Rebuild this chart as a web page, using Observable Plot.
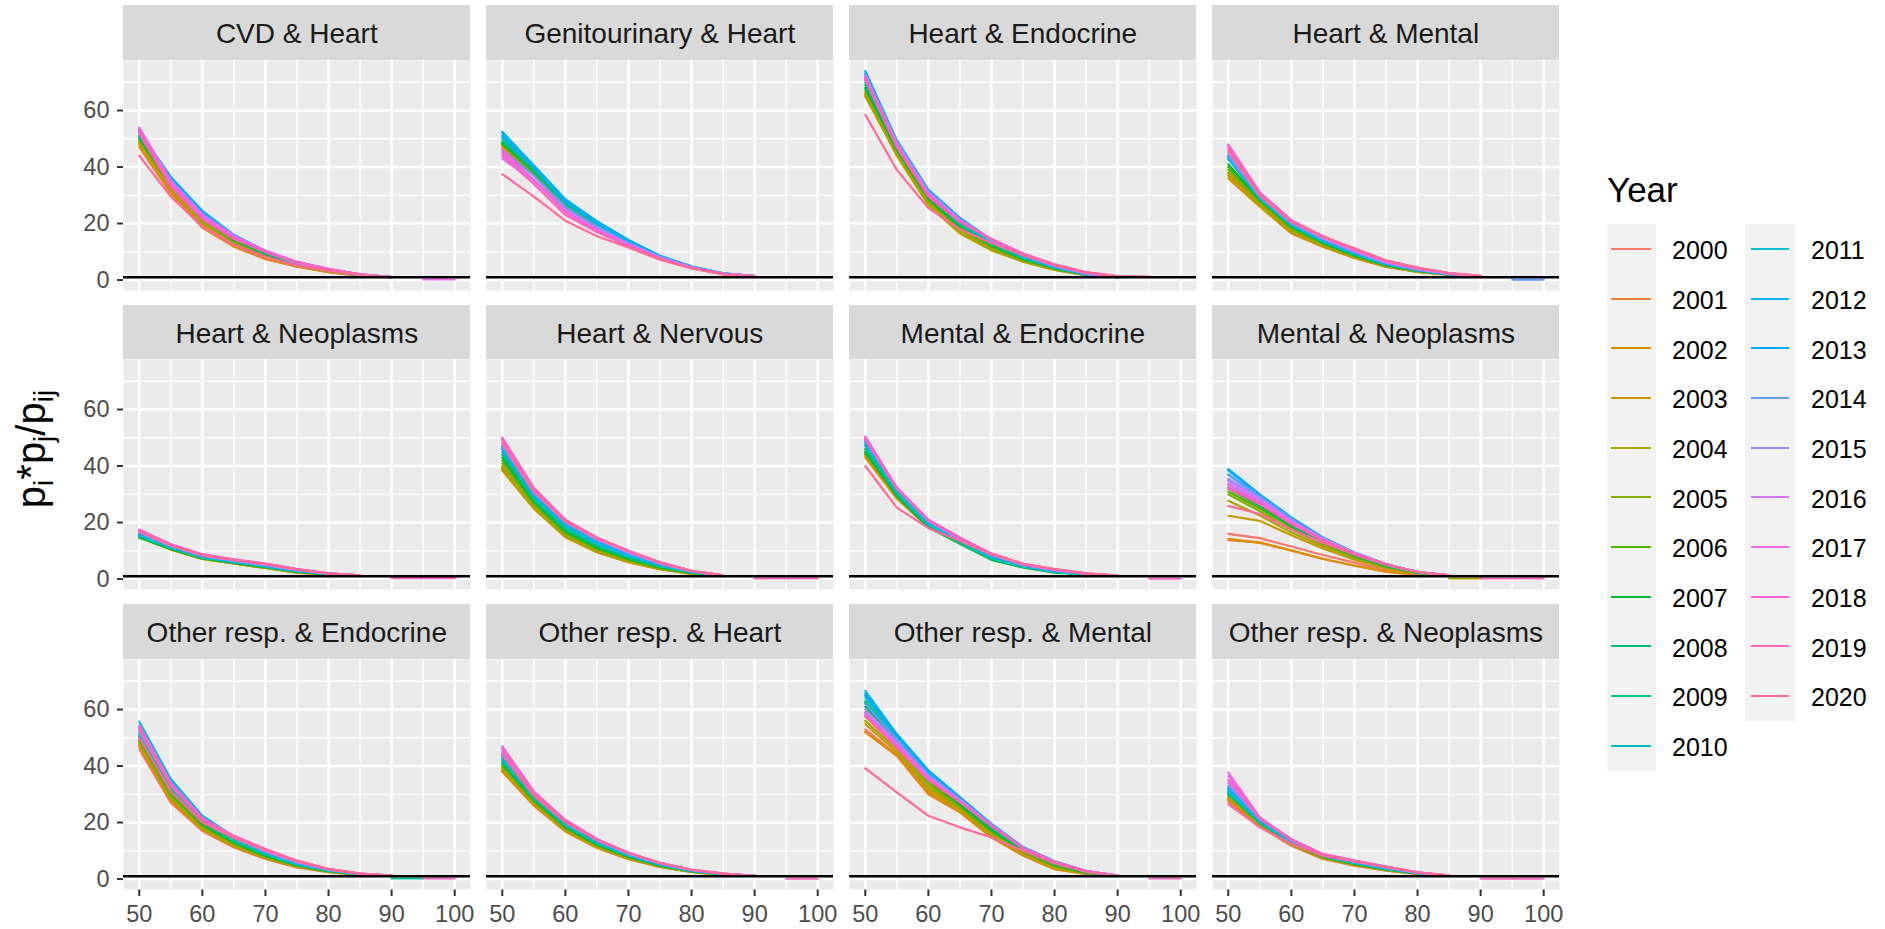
<!DOCTYPE html>
<html>
<head>
<meta charset="utf-8">
<script src="https://cdn.jsdelivr.net/npm/d3@7"></script>
<script src="https://cdn.jsdelivr.net/npm/@observablehq/plot@0.6"></script>
<style>
  html, body { margin: 0; padding: 0; background: #ffffff; }
  #root { position: relative; width: 1885px; height: 929px; overflow: hidden; font-family: "Liberation Sans", Arial, sans-serif; }
  .strip { position: absolute; background: #D9D9D9; display: flex; align-items: center; justify-content: center;
           font-size: 28px; color: #1A1A1A; box-sizing: border-box; padding-top: 4px; white-space: nowrap; }
  .panel { position: absolute; }
  .panel [aria-label="y-axis tick"], .panel [aria-label="x-axis tick"] { stroke-width: 2px; stroke: #333333; }
  #ytitle { position: absolute; font-size: 40px; line-height: 1; color: #000; white-space: nowrap;
            transform: translate(-50%, -50%) rotate(-90deg); }
  #ytitle sub { font-size: 70%; line-height: 0; vertical-align: -0.28em; }
  .lgtitle { position: absolute; font-size: 35px; line-height: 1; color: #000; }
  .lgbg { position: absolute; background: #F2F2F2; }
  .lgkey { position: absolute; height: 2px; }
  .lglab { position: absolute; font-size: 25px; line-height: 1; color: #000; }
</style>
</head>
<body>
<div id="root"></div>
<script>
// ---------------- data ----------------
const years = [2000, 2001, 2002, 2003, 2004, 2005, 2006, 2007, 2008, 2009, 2010,
               2011, 2012, 2013, 2014, 2015, 2016, 2017, 2018, 2019, 2020];
const ages = [50, 55, 60, 65, 70, 75, 80, 85, 90, 95, 100];
const xTicks = [50, 60, 70, 80, 90, 100];
const yTicks = [0, 20, 40, 60];
const panelNames = ["CVD & Heart", "Genitourinary & Heart", "Heart & Endocrine", "Heart & Mental",
  "Heart & Neoplasms", "Heart & Nervous", "Mental & Endocrine", "Mental & Neoplasms",
  "Other resp. & Endocrine", "Other resp. & Heart", "Other resp. & Mental", "Other resp. & Neoplasms"];

// one row per year (2000..2020), one value per age (50..100); null / missing = no data
const cvdHeart = [
  [48, 31, 19, 12, 7.5, 4.8, 2.8, 1.5, 1.0],
  [47, 30.5, 18.5, 11.8, 7.4, 4.7, 2.8, 1.5, 1.0],
  [48, 31.5, 19.5, 12.2, 7.8, 4.9, 2.9, 1.5, 1.0],
  [48.5, 32, 20, 12.5, 8, 5, 3, 1.6, 1.0],
  [49, 32.5, 20.5, 13, 8.3, 5.1, 3.1, 1.6, 1.0],
  [49.5, 33, 21, 13.5, 8.6, 5.3, 3.2, 1.6, 1.0],
  [50, 33.5, 21.5, 14, 9, 5.5, 3.3, 1.7, 1.0],
  [50.5, 34, 22, 14.3, 9.2, 5.6, 3.4, 1.7, 1.0],
  [51, 34.5, 22.5, 14.6, 9.4, 5.7, 3.5, 1.8, 1.0],
  [51, 35, 23, 15, 9.6, 5.8, 3.5, 1.8, 1.0],
  [52, 35.5, 23.5, 15.3, 9.8, 5.9, 3.6, 1.8, 1.0],
  [52, 36, 24, 15.6, 10, 6, 3.6, 1.8, 1.0],
  [52.5, 36.5, 24.5, 16, 10.3, 6.1, 3.7, 1.9, 1.0],
  [53, 36, 24, 15.8, 10.2, 6.1, 3.7, 1.9, 1.0],
  [53, 35.5, 23.5, 15.5, 10, 6, 3.6, 1.9, 1.0],
  [53.5, 35, 23, 15.5, 10, 6.2, 3.8, 2, 1.0],
  [53.5, 35, 23, 15.5, 10.2, 6.3, 3.9, 2, 1.0],
  [54, 35, 23, 15.7, 10.4, 6.5, 4, 2, null, 0.2, 0.2],
  [53, 34, 22, 15, 10, 6.3, 3.9, 2, 1.0],
  [52, 33, 21.5, 14.5, 9.8, 6.2, 3.8, 2, 1.0],
  [44, 29.5, 19, 12.5, 8.2, 5.2, 3.2, 1.7, 1.0]
];
const genitourinaryHeart = [
  [46, 37, 25, 17.5, 12, 7.5, 4.2, 2.1, 1.3],
  [47, 37.5, 25.5, 18, 12.3, 7.6, 4.3, 2.1, 1.3],
  [47.5, 37.5, 25.5, 18, 12.3, 7.6, 4.3, 2.1, 1.3],
  [48, 38, 26, 18.3, 12.5, 7.7, 4.4, 2.2, 1.3],
  [48, 38, 26, 18.5, 12.6, 7.8, 4.4, 2.2, 1.3],
  [48.5, 38.5, 26.5, 18.8, 12.8, 7.9, 4.5, 2.2, 1.3],
  [48, 38, 26.5, 19, 13, 8, 4.5, 2.2, 1.4],
  [48.5, 38.5, 27, 19.3, 13.2, 8.1, 4.6, 2.3, 1.4],
  [49, 39, 27, 19.5, 13.4, 8.2, 4.6, 2.3, 1.4],
  [50, 39.5, 27.5, 20, 13.6, 8.3, 4.7, 2.3, 1.4],
  [51, 40, 28, 20.3, 13.8, 8.4, 4.7, 2.3, 1.4],
  [52, 40.5, 28.5, 20.6, 14, 8.5, 4.8, 2.4, 1.4],
  [52.5, 40.5, 28.5, 20.8, 14.2, 8.6, 4.8, 2.4, 1.4],
  [51, 40, 28, 20.3, 14, 8.5, 4.8, 2.4, 1.4],
  [46, 37, 26, 19, 13.2, 8.2, 4.6, 2.3, 1.4],
  [44, 35.5, 25, 18.3, 12.8, 8, 4.5, 2.3, 1.4],
  [43, 35, 24.5, 18, 12.6, 7.9, 4.5, 2.3, 1.4],
  [45, 35.5, 24.5, 17.8, 12.4, 7.8, 4.4, 2.2, 1.3],
  [46, 35.5, 24, 17.5, 12.2, 7.7, 4.3, 2.2, 1.3],
  [44, 34, 23, 17, 12, 7.6, 4.3, 2.2, 1.3],
  [37.5, 29.5, 21, 15.5, 11.5, 7.2, 4.1, 2, 1.2]
];
const heartEndocrine = [
  [66, 46, 28, 18, 11.5, 7, 4, 1.8, 1],
  [65.5, 45, 27.5, 17.5, 11, 6.8, 3.8, 1.8, 1],
  [65, 44.5, 27, 17, 10.8, 6.6, 3.7, 1.7, 1],
  [65.5, 44, 26.5, 16.5, 10.5, 6.5, 3.6, 1.7, 1],
  [66, 44.5, 27, 17, 10.8, 6.6, 3.7, 1.7, 1],
  [67, 45.5, 28, 18, 11.5, 7, 4, 1.8, 1],
  [68, 46, 28.5, 18.5, 12, 7.3, 4.1, 1.9, 1],
  [68, 46.5, 29, 19, 12.3, 7.5, 4.2, 1.9, 1],
  [69, 47, 29.5, 19.5, 12.6, 7.7, 4.3, 2, 1],
  [70, 47.5, 30, 20, 13, 7.9, 4.4, 2, 1],
  [71, 48, 30.5, 20.5, 13.3, 8.1, 4.5, 2, 1],
  [72, 48.5, 31, 21, 13.6, 8.3, 4.6, 2.1, 1],
  [73, 49, 31.5, 21.5, 14, 8.5, 4.7, 2.1, 1],
  [74, 49.5, 32, 22, 14.3, 8.7, 4.8, 2.1, 1],
  [73, 49, 31.5, 21.5, 14.2, 8.8, 4.9, 2.2, 1],
  [72, 48.5, 31, 21.3, 14.2, 8.9, 5, 2.3, 1.1],
  [71.5, 48, 30.5, 21, 14.2, 9, 5.1, 2.4, 1.1],
  [72, 48, 30.5, 21, 14.4, 9.2, 5.3, 2.5, 1.2],
  [71.5, 47.5, 30, 20.8, 14.5, 9.3, 5.5, 2.7, 1.3, 1.1],
  [71, 47, 29.5, 20.5, 14.5, 9.4, 5.6, 2.8, 1.4, 1.1],
  [58.5, 39, 25.5, 18, 13, 8.8, 5.3, 2.6, 1.3]
];
const heartMental = [
  [38, 27, 17, 12, 8, 4.8, 3, 1.9, 1.2],
  [37, 26.5, 16.8, 11.8, 7.8, 4.7, 2.9, 1.9, 1.2],
  [36, 26, 16.5, 11.8, 7.8, 4.7, 2.9, 1.9, 1.2],
  [37, 26.5, 17, 12, 8, 4.8, 3, 1.9, 1.2],
  [38, 27, 17.5, 12.3, 8.2, 4.9, 3, 1.9, 1.2],
  [39, 27.5, 18, 12.6, 8.4, 5, 3.1, 2, 1.2],
  [40, 28, 18.5, 13, 8.6, 5.2, 3.2, 2, 1.3],
  [41, 28.5, 19, 13.3, 8.8, 5.3, 3.3, 2, 1.3],
  [43, 29, 19.3, 13.5, 9, 5.4, 3.3, 2, 1.3],
  [44, 29.5, 19.5, 13.8, 9.2, 5.5, 3.4, 2.1, 1.3],
  [43, 29, 19.5, 13.8, 9.3, 5.6, 3.4, 2.1, 1.3],
  [43, 29, 19.5, 14, 9.4, 5.7, 3.5, 2.1, 1.3],
  [43.5, 29.5, 20, 14.2, 9.6, 5.8, 3.6, 2.1, 1.3],
  [44, 29.5, 20, 14.3, 9.7, 5.9, 3.6, 2.2, 1.3],
  [44, 29.5, 20, 14.5, 9.9, 6, 3.7, 2.2, null, 0.1, 0.1],
  [45, 30, 20.5, 14.8, 10.1, 6.2, 3.8, 2.2, 1.3],
  [46, 30.5, 21, 15, 10.3, 6.3, 3.9, 2.3, 1.4],
  [47, 31, 21, 15.3, 10.6, 6.5, 4, 2.3, 1.4],
  [48, 31, 21.2, 15.5, 10.9, 6.8, 4.2, 2.4, 1.4],
  [47.5, 30.5, 21, 15.5, 11.2, 7, 4.4, 2.5, 1.5],
  [46, 30, 20.5, 15.3, 11, 6.9, 4.3, 2.5, 1.5]
];
const heartNeoplasms = [
  [15.5, 10.8, 7.3, 5.6, 4.0, 2.4, 1.6, 1.2],
  [15.2, 10.6, 7.2, 5.5, 3.9, 2.3, 1.5, 1.2],
  [15.0, 10.5, 7.1, 5.5, 3.9, 2.3, 1.5, 1.2],
  [15.0, 10.5, 7.1, 5.5, 3.9, 2.4, 1.5, 1.2],
  [15.1, 10.6, 7.2, 5.6, 4.0, 2.4, 1.6, 1.2],
  [14.8, 10.6, 7.2, 5.6, 4.0, 2.5, 1.6, 1.2],
  [14.6, 10.6, 7.3, 5.7, 4.1, 2.5, 1.6, 1.2],
  [14.7, 10.7, 7.4, 5.8, 4.2, 2.6, 1.6, 1.2],
  [15.0, 10.9, 7.5, 5.9, 4.3, 2.7, 1.7, 1.2],
  [15.3, 11.0, 7.6, 6.0, 4.4, 2.8, 1.7, 1.2],
  [15.6, 11.2, 7.7, 6.1, 4.5, 2.8, 1.7, 1.2],
  [15.8, 11.3, 7.8, 6.2, 4.6, 2.9, 1.8, 1.2],
  [16.0, 11.5, 7.9, 6.3, 4.7, 3.0, 1.8, 1.3],
  [16.2, 11.6, 8.0, 6.4, 4.8, 3.0, 1.8, 1.3],
  [16.4, 11.7, 8.1, 6.5, 4.9, 3.1, 1.9, 1.3],
  [16.6, 11.8, 8.3, 6.6, 5.0, 3.2, 1.9, 1.3],
  [16.9, 12.0, 8.4, 6.7, 5.1, 3.3, 1.9, 1.3],
  [17.2, 12.1, 8.6, 6.8, 5.3, 3.4, 2.0, 1.3],
  [17.5, 12.3, 8.8, 7.0, 5.5, 3.5, 2.0, 1.3],
  [17.4, 12.2, 8.7, 6.9, 5.4, 3.5, 2.0, null, 0.3, 0.3, 0.3],
  [16.8, 11.8, 8.4, 6.8, 5.3, 3.4, 2.0, 1.3]
];
const heartNervous = [
  [40, 26, 15.5, 10, 6.2, 3.6, 1.9, 1.2],
  [39, 25.5, 15, 9.8, 6.1, 3.6, 1.9, 1.2],
  [38.5, 25, 14.8, 9.5, 6.0, 3.5, 1.8, 1.2],
  [38.5, 25, 15, 9.6, 6.0, 3.5, 1.8, 1.2],
  [39.5, 25.5, 15.3, 9.9, 6.2, 3.6, 1.9, 1.2],
  [41, 26.5, 16, 10.4, 6.6, 3.8, 2.0, 1.2],
  [42, 27, 16.5, 10.8, 6.9, 4.0, 2.1, 1.2],
  [43, 27.5, 17, 11.2, 7.2, 4.2, 2.2, 1.2],
  [44, 28, 17.5, 11.6, 7.5, 4.4, 2.3, 1.3],
  [45, 28.5, 18, 12, 7.8, 4.6, 2.4, 1.3],
  [46.5, 29.5, 18.5, 12.4, 8.1, 4.8, 2.5, 1.3],
  [47, 30, 19, 12.8, 8.4, 5.0, 2.5, 1.3],
  [46.5, 30, 19.5, 13.2, 8.7, 5.1, 2.6, 1.3],
  [46, 30, 19.8, 13.5, 8.9, 5.2, 2.6, 1.3],
  [47, 30.5, 20, 13.8, 9.2, 5.4, 2.7, 1.3],
  [48, 31, 20.3, 14, 9.4, 5.5, 2.7, 1.3],
  [49, 31.5, 20.5, 14.2, 9.6, 5.6, 2.8, 1.3],
  [50, 32, 20.8, 14.5, 9.8, 5.8, 2.9, 1.3],
  [50, 32.3, 21, 14.7, 10, 5.9, 2.9, 1.3],
  [49.5, 32, 20.8, 14.6, 10, 5.9, 2.9, null, 0.2, 0.2, 0.2],
  [48, 31, 20.3, 14.4, 9.9, 5.8, 2.9, 1.3]
];
const mentalEndocrine = [
  [44, 29, 19, 13, 7.5, 4.5, 2.6, 1.7, 1.1],
  [43.5, 28.5, 18.5, 12.8, 7.3, 4.4, 2.5, 1.7, 1.1],
  [43, 28.5, 18.3, 12.7, 7.2, 4.3, 2.5, 1.7, 1.1],
  [44, 29, 18.5, 12.8, 7.3, 4.4, 2.5, 1.7, 1.1],
  [45, 29.5, 18.8, 12.9, 7.4, 4.5, 2.6, 1.7, 1.1],
  [46, 30, 19, 12.9, 7.3, 4.4, 2.5, 1.7, 1.1],
  [44.5, 29.5, 18.5, 12.6, 7.0, 4.2, 2.4, 1.7, 1.1],
  [45, 29.5, 18.3, 12.5, 6.8, 4.1, 2.3, 1.6, 1.1],
  [46, 30, 18.8, 12.7, 7.0, 4.2, 2.4, 1.7, 1.1],
  [47, 30.5, 19.2, 13, 7.3, 4.4, 2.5, 1.7, 1.1],
  [47.5, 31, 19.5, 13.3, 7.6, 4.6, 2.6, 1.7, 1.1],
  [48, 31.5, 19.8, 13.5, 7.9, 4.7, 2.7, 1.8, 1.1],
  [48.5, 31.8, 20, 13.7, 8.1, 4.8, 2.8, 1.8, 1.1],
  [49, 32, 20.3, 13.9, 8.3, 4.9, 2.9, 1.8, 1.1],
  [49, 32, 20.5, 14, 8.4, 5.0, 3.0, 1.8, 1.1],
  [49.5, 32.2, 20.6, 14.2, 8.6, 5.1, 3.1, 1.9, 1.2],
  [50, 32.4, 20.8, 14.3, 8.7, 5.2, 3.2, 1.9, 1.2],
  [50.5, 32.4, 21, 14.5, 8.9, 5.3, 3.3, 1.9, 1.2],
  [50, 32.2, 21, 14.6, 9.0, 5.4, 3.4, 2.0, 1.2],
  [49.5, 32, 20.8, 14.7, 9.0, 5.4, 3.5, 2.0, null, 0.1, 0.1],
  [40, 25.3, 18, 13.5, 8.7, 5.3, 3.5, 2.0, 1.2]
];
const mentalNeoplasms = [
  [16, 14.5, 11.5, 8.5, 5.8, 3.2, 1.6, 1.1],
  [13.8, 13, 10, 7.1, 4.7, 2.6, 1.5, 1.0],
  [14.2, 12.8, 10.2, 7.2, 4.8, 2.6, 1.5, 1.0],
  [22.4, 20.6, 15.5, 10.8, 6.8, 3.8, 2.0, 1.1],
  [27.7, 22.5, 16.5, 11.5, 7.3, 4.0, null, 0.2, 0.2],
  [30, 24, 17.5, 12.2, 7.8, 4.3, 2.1, 1.1],
  [31, 25, 18.3, 12.6, 8.1, 4.5, 2.2, 1.2],
  [32, 25.8, 18.8, 13, 8.3, 4.6, 2.3, 1.2],
  [32.5, 26.3, 19.2, 13.3, 8.5, 4.7, 2.3, 1.2],
  [33.5, 27, 19.7, 13.6, 8.7, 4.8, 2.4, 1.2],
  [35, 28, 20.3, 14, 9, 5.0, 2.4, 1.2],
  [37, 29, 21, 14.4, 9.2, 5.1, 2.5, 1.3],
  [38.5, 29.7, 21.5, 14.6, 9.4, 5.2, 2.5, 1.3],
  [38.9, 30, 21.8, 14.7, 9.4, 5.3, 2.5, 1.3],
  [37, 29.3, 21.3, 14.5, 9.3, 5.2, 2.5, 1.3],
  [35.5, 28.5, 20.8, 14.3, 9.2, 5.2, 2.5, 1.3],
  [34.5, 28, 20.5, 14.2, 9.2, 5.2, 2.5, 1.3],
  [33.5, 27.5, 20.2, 14, 9.1, 5.2, 2.5, 1.3],
  [32.4, 26.8, 19.8, 13.8, 9.0, 5.2, 2.5, 1.3],
  [32, 26.5, 19.5, 13.7, 9.0, 5.1, 2.5, null, 0.2, 0.2, 0.2],
  [25.9, 23, 17.5, 12.8, 8.6, 5.0, 2.5, 1.3]
];
const otherRespEndocrine = [
  [46, 27, 17, 11.2, 7.1, 4.1, 2.4, 1.5, 1.1],
  [47, 27.5, 17.3, 11.4, 7.2, 4.2, 2.5, 1.5, 1.1],
  [47.5, 28, 17.5, 11.6, 7.3, 4.3, 2.5, 1.5, 1.1],
  [48, 28.5, 17.8, 11.8, 7.5, 4.4, 2.6, 1.6, 1.1],
  [48.5, 29, 18.2, 12, 7.7, 4.5, 2.6, 1.6, 1.1],
  [49, 29.5, 18.5, 12.3, 7.9, 4.7, 2.7, 1.6, 1.1],
  [49.5, 30, 19, 12.7, 8.1, 4.8, 2.8, 1.6, 1.1],
  [50, 31, 19.5, 13, 8.3, 4.9, 2.8, 1.7, 1.1],
  [50.5, 31.5, 20, 13.3, 8.5, 5.0, 2.9, 1.7, 1.1],
  [51, 32, 20.5, 13.6, 8.7, 5.1, 3.0, null, 0.2, 0.2],
  [52, 33, 21, 14, 9, 5.3, 3.0, 1.7, 1.2],
  [55.7, 35.4, 22.4, 15, 9.8, 5.8, 3.2, 1.8, 1.2],
  [54, 34.5, 22, 14.8, 9.7, 5.8, 3.2, 1.8, 1.2],
  [53, 34, 21.8, 14.7, 9.7, 5.8, 3.2, 1.8, 1.2],
  [52, 33.5, 21.5, 14.6, 9.7, 5.9, 3.3, 1.8, 1.2],
  [53, 33.5, 21.3, 14.6, 9.8, 6.0, 3.3, 1.8, 1.2],
  [53.5, 34, 21.5, 14.8, 10, 6.1, 3.4, 1.9, 1.2],
  [54.3, 34, 21.6, 15, 10.3, 6.3, 3.5, 1.9, 1.2],
  [54, 33.5, 21.3, 15.2, 10.5, 6.5, 3.5, 1.9, 1.2],
  [53, 33, 21, 15.3, 10.6, 6.5, 3.5, 1.9, null, 0.2, 0.2],
  [50, 31, 20, 14.5, 10.2, 6.3, 3.5, 1.9, 1.2]
];
const otherRespHeart = [
  [38.5, 26.5, 17, 11.2, 7.2, 4.4, 2.5, 1.5, 1.1],
  [38, 26, 16.8, 11, 7.0, 4.3, 2.5, 1.5, 1.1],
  [38.2, 26.2, 17, 11.2, 7.1, 4.3, 2.5, 1.5, 1.1],
  [39, 26.8, 17.3, 11.4, 7.3, 4.4, 2.6, 1.5, 1.1],
  [39.5, 27, 17.6, 11.6, 7.4, 4.5, 2.6, 1.6, 1.1],
  [40, 27.5, 17.9, 11.8, 7.6, 4.6, 2.7, 1.6, 1.1],
  [40.5, 27.8, 18.2, 12, 7.8, 4.7, 2.7, 1.6, 1.1],
  [41, 28.2, 18.5, 12.3, 8, 4.8, 2.8, 1.6, 1.1],
  [41.5, 28.5, 18.8, 12.5, 8.1, 4.9, 2.8, 1.7, 1.1],
  [42, 28.8, 19, 12.7, 8.3, 5.0, 2.9, 1.7, 1.1],
  [42.5, 29.2, 19.3, 12.9, 8.4, 5.1, 2.9, 1.7, 1.1],
  [43, 29.5, 19.6, 13.1, 8.6, 5.2, 3.0, 1.7, 1.1],
  [43.5, 29.8, 19.9, 13.3, 8.7, 5.3, 3.0, 1.8, 1.1],
  [44, 30, 20.1, 13.5, 8.8, 5.3, 3.1, 1.8, 1.1],
  [44.5, 30.2, 20.3, 13.6, 8.9, 5.4, 3.1, 1.8, 1.1],
  [45, 30.5, 20.5, 13.8, 9.0, 5.5, 3.2, 1.8, 1.1],
  [46, 30.8, 20.8, 14, 9.2, 5.6, 3.2, 1.9, 1.1],
  [47, 31, 21, 14.2, 9.3, 5.7, 3.3, 1.9, 1.1],
  [46.5, 30.8, 20.8, 14.1, 9.3, 5.7, 3.3, 1.9, 1.1],
  [46, 30.5, 20.6, 14, 9.3, 5.7, 3.3, 1.9, null, 0.1, 0.1],
  [44, 29.5, 20, 13.8, 9.2, 5.6, 3.3, 1.9, 1.1]
];
const otherRespMental = [
  [53, 44, 31, 24, 15, 8.5, 3.8, 1.8, 1.1],
  [52, 43.6, 30, 23.6, 14.7, 8.3, 3.5, 1.8, 1.1],
  [52, 44, 30.5, 23.8, 15, 8.4, 3.5, 1.8, 1.1],
  [54.8, 45, 31.5, 24.5, 15.5, 8.8, 3.8, 1.9, 1.1],
  [56, 46, 32.5, 25, 16, 9.2, 4.2, 2.0, 1.1],
  [57.5, 47, 33.5, 25.5, 16.5, 9.5, 4.5, 2.1, 1.1],
  [59, 48, 34.5, 26, 17, 9.8, 4.8, 2.2, 1.1],
  [61, 49, 35.5, 26.5, 17.5, 10.1, 5.1, 2.3, 1.2],
  [62.5, 49.5, 36.5, 27, 18, 10.4, 5.4, 2.4, 1.2],
  [63, 50, 37, 27.5, 18.5, 10.7, 5.7, 2.5, 1.2],
  [64.3, 50.5, 37.5, 28, 18.8, 10.9, 5.9, 2.6, 1.2],
  [65, 51, 38, 28.5, 19.2, 11.1, 6.1, 2.7, 1.2],
  [66.6, 51.3, 38.5, 29, 19.5, 11.3, 6.3, 2.8, 1.2],
  [65.5, 51, 38.2, 28.8, 19.4, 11.3, 6.3, 2.8, 1.2],
  [62, 49.5, 37, 28.3, 19.2, 11.2, 6.2, 2.8, 1.2],
  [60, 48.5, 36.3, 28, 19, 11.1, 6.1, 2.8, 1.2],
  [59, 48, 36, 27.8, 19, 11.1, 6.1, 2.8, 1.2],
  [58.5, 47.5, 35.7, 27.6, 18.9, 11.0, 6.0, 2.8, 1.2],
  [58, 47, 35.4, 27.4, 18.8, 11.0, 6.0, 2.8, 1.2],
  [57.8, 46.5, 35, 27.2, 18.7, 10.9, 6.0, 2.8, null, 0.2, 0.2],
  [39.2, 30.7, 22.4, 18.3, 14.7, 10.0, 5.5, 2.5, 1.2]
];
const otherRespNeoplasms = [
  [27.5, 18.5, 11.8, 7.1, 4.7, 3.0, 1.8, 1.2],
  [28, 18.8, 12, 7.2, 4.8, 3.1, 1.8, 1.2],
  [28.5, 19, 12.1, 7.3, 4.9, 3.1, 1.9, 1.2],
  [29, 19.2, 12.3, 7.5, 5.0, 3.2, 1.9, 1.2],
  [29.5, 19.4, 12.4, 7.6, 5.1, 3.3, 1.9, 1.2],
  [30, 19.6, 12.5, 7.7, 5.2, 3.3, 2.0, 1.2],
  [30, 19.8, 12.6, 7.8, 5.3, 3.4, 2.0, 1.2],
  [30.5, 20, 12.8, 7.9, 5.4, 3.5, 2.0, 1.2],
  [30, 20, 12.8, 8.0, 5.5, 3.5, 2.1, 1.2],
  [30.5, 20.2, 13, 8.1, 5.6, 3.6, 2.1, 1.2],
  [31, 20.4, 13.1, 8.2, 5.7, 3.7, 2.1, 1.2],
  [31.5, 20.6, 13.3, 8.3, 5.8, 3.8, 2.2, 1.2],
  [32, 20.8, 13.4, 8.4, 5.9, 3.9, 2.2, 1.2],
  [32.5, 21, 13.6, 8.5, 6.0, 4.0, 2.2, 1.2],
  [33, 21.2, 13.7, 8.6, 6.1, 4.0, 2.3, 1.2],
  [34, 21.4, 13.8, 8.7, 6.2, 4.1, 2.3, 1.2],
  [35, 21.6, 13.9, 8.7, 6.3, 4.2, 2.3, 1.2],
  [37.7, 21.8, 14.1, 8.8, 6.4, 4.3, 2.4, 1.2],
  [36.5, 21.7, 14, 8.8, 6.5, 4.4, 2.4, 1.2],
  [35, 21.5, 13.9, 8.8, 6.5, 4.4, 2.4, null, 0.1, 0.1, 0.1],
  [26.5, 18.3, 12.5, 8.2, 6.2, 4.2, 2.4, 1.2]
];
const panelValues = [cvdHeart, genitourinaryHeart, heartEndocrine, heartMental,
  heartNeoplasms, heartNervous, mentalEndocrine, mentalNeoplasms,
  otherRespEndocrine, otherRespHeart, otherRespMental, otherRespNeoplasms];

// ---------------- ggplot2 default hue palette (R hcl, c=100, l=65) ----------------
function hclR(h, c, l) {
  const WX = 95.047, WY = 100.0, WZ = 108.883;
  const hr = h * Math.PI / 180;
  const U = c * Math.cos(hr), V = c * Math.sin(hr);
  const Y = l > 7.999592 ? WY * Math.pow((l + 16) / 116, 3) : WY * l / 903.3;
  const t = WX + 15 * WY + 3 * WZ;
  const un = 4 * WX / t, vn = 9 * WY / t;
  const u = U / (13 * l) + un, v = V / (13 * l) + vn;
  const X = 9 * Y * u / (4 * v);
  const Z = -X / 3 - 5 * Y + 3 * Y / v;
  const g = x => x > 0.00304 ? 1.055 * Math.pow(x, 1 / 2.4) - 0.055 : 12.92 * x;
  const cl = x => Math.round(255 * Math.max(0, Math.min(1, x)));
  const r = cl(g((3.240479 * X - 1.537150 * Y - 0.498535 * Z) / WY));
  const gg = cl(g((-0.969256 * X + 1.875992 * Y + 0.041556 * Z) / WY));
  const b = cl(g((0.055648 * X - 0.204043 * Y + 1.057311 * Z) / WY));
  return "#" + [r, gg, b].map(x => x.toString(16).padStart(2, "0")).join("");
}
const palette = years.map((y, i) => hclR(15 + i * 360 / years.length, 100, 65));

// ---------------- layout ----------------
const colX = [123.3, 486.3, 849.3, 1212.3];
const rowTop = [5, 304.5, 604];
const PW = 347, PH = 230, SH = 54.5;
const root = document.getElementById("root");

panelNames.forEach((name, k) => {
  const r = Math.floor(k / 4), c = k % 4;
  const rows = [];
  years.forEach((yr, i) => {
    ages.forEach((a, j) => {
      const v = panelValues[k][i][j];
      rows.push({year: yr, age: a, value: (v === null || v === undefined) ? NaN : v});
    });
  });
  const isLeft = c === 0, isBottom = r === 2;
  const mL = isLeft ? 80 : 0, mB = isBottom ? 45 : 0;

  const strip = document.createElement("div");
  strip.className = "strip";
  strip.style.left = colX[c] + "px";
  strip.style.top = rowTop[r] + "px";
  strip.style.width = PW + "px";
  strip.style.height = SH + "px";
  strip.textContent = name;
  root.appendChild(strip);

  const svg = Plot.plot({
    width: PW + mL, height: PH + mB,
    marginLeft: mL, marginRight: 0, marginTop: 0, marginBottom: mB,
    style: {fontFamily: '"Liberation Sans", Arial, sans-serif', fontSize: "23.5px", color: "#4D4D4D",
            background: "transparent", overflow: "visible"},
    x: {domain: [47.5, 102.5], ticks: xTicks, axis: isBottom ? "bottom" : null, tickSize: 7, tickPadding: 9, label: null},
    y: {domain: [-3.7, 77.7], ticks: yTicks, axis: isLeft ? "left" : null, tickSize: 6, tickPadding: 8, label: null},
    color: {type: "ordinal", domain: years, range: palette},
    marks: [
      Plot.frame({fill: "#EBEBEB", stroke: "none"}),
      Plot.ruleX([55, 65, 75, 85, 95], {stroke: "#ffffff", strokeWidth: 1.3}),
      Plot.ruleY([10, 30, 50, 70], {stroke: "#ffffff", strokeWidth: 1.3}),
      Plot.ruleX(xTicks, {stroke: "#ffffff", strokeWidth: 2.6}),
      Plot.ruleY(yTicks, {stroke: "#ffffff", strokeWidth: 2.6}),
      Plot.line(rows, {x: "age", y: "value", z: "year", stroke: "year", strokeWidth: 2.2}),
      Plot.ruleY([1], {stroke: "#000000", strokeWidth: 2.6})
    ]
  });
  svg.classList.add("panel");
  svg.style.left = (colX[c] - mL) + "px";
  svg.style.top = (rowTop[r] + SH) + "px";
  root.appendChild(svg);
});

// y-axis title
const yt = document.createElement("div");
yt.id = "ytitle";
yt.innerHTML = "p<sub>i</sub>*p<sub>j</sub>/p<sub>ij</sub>";
yt.style.left = "31px";
yt.style.top = "449px";
root.appendChild(yt);

// legend
const lt = document.createElement("div");
lt.className = "lgtitle";
lt.textContent = "Year";
lt.style.left = "1607px";
lt.style.top = "172px";
root.appendChild(lt);
const lgCols = [{bg: 1607, key: 1611, lab: 1672, w: 49, kw: 40}, {bg: 1745, key: 1751, lab: 1811, w: 50, kw: 38}];
const perCol = 11, rowH = 49.7, lgTop = 224;
[0, 1].forEach(ci => {
  const n = ci === 0 ? perCol : years.length - perCol;
  const bg = document.createElement("div");
  bg.className = "lgbg";
  bg.style.left = lgCols[ci].bg + "px";
  bg.style.top = lgTop + "px";
  bg.style.width = lgCols[ci].w + "px";
  bg.style.height = Math.round(n * rowH) + "px";
  root.appendChild(bg);
});
years.forEach((yr, i) => {
  const ci = i < perCol ? 0 : 1, ri = i < perCol ? i : i - perCol;
  const cy = lgTop + ri * rowH + rowH / 2;
  const key = document.createElement("div");
  key.className = "lgkey";
  key.style.left = lgCols[ci].key + "px";
  key.style.width = lgCols[ci].kw + "px";
  key.style.top = Math.round(cy - 1) + "px";
  key.style.background = palette[i];
  root.appendChild(key);
  const lab = document.createElement("div");
  lab.className = "lglab";
  lab.textContent = String(yr);
  lab.style.left = lgCols[ci].lab + "px";
  lab.style.top = Math.round(cy + 10.5 - 21.2) + "px";
  root.appendChild(lab);
});
</script>
</body>
</html>
